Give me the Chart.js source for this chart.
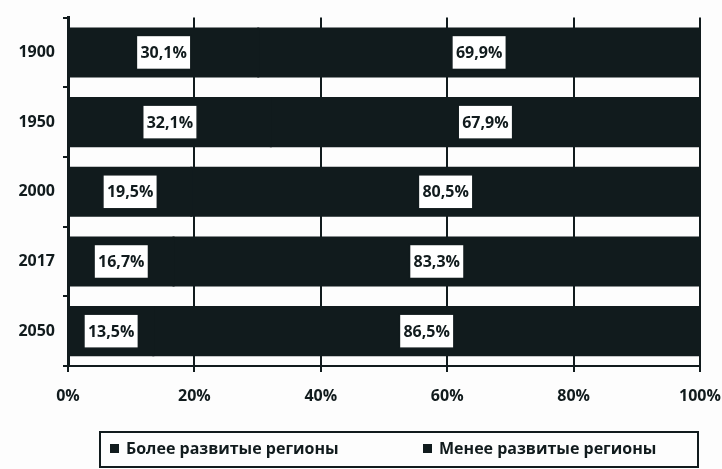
<!DOCTYPE html>
<html>
<head>
<meta charset="utf-8">
<script src="https://cdn.jsdelivr.net/npm/chart.js@4"></script>
<style>
  html, body { margin: 0; padding: 0; background: #fdfdfd; }
  #wrap { width: 722px; height: 469px; }
</style>
</head>
<body>
<div id="wrap"><canvas id="myChart" width="722" height="469"></canvas></div>
<script>
const years = ['1900', '1950', '2000', '2017', '2050'];
const moreDeveloped = [30.1, 32.1, 19.5, 16.7, 13.5];
const lessDeveloped = [69.9, 67.9, 80.5, 83.3, 86.5];
const seriesNames = ['Более развитые регионы', 'Менее развитые регионы'];
const xTicks = [0, 20, 40, 60, 80, 100];

const ink = '#111b1d';
const fontFamily = '"Open Sans", "Noto Sans", sans-serif';

function pct(v){
    return v.toFixed(1).replace('.', ',') + '%';
}

// white boxes with the value in the middle of every segment
const boxLabels = {
    id: 'boxLabels',
    afterDatasetsDraw(chart){
        const ctx = chart.ctx;
        ctx.save();
        ctx.font = 'bold 16px ' + fontFamily;
        ctx.textAlign = 'center';
        ctx.textBaseline = 'middle';
        chart.data.datasets.forEach((ds, i) => {
            const meta = chart.getDatasetMeta(i);
            meta.data.forEach((bar, j) => {
                const text = pct(ds.data[j]);
                const cx = (bar.x + bar.base) / 2;
                const cy = bar.y;
                const w = ctx.measureText(text).width + 8;
                const h = 34;
                ctx.fillStyle = '#ffffff';
                ctx.fillRect(cx - w / 2, cy - h / 2, w, h);
                ctx.strokeStyle = ink;
                ctx.lineWidth = 1.5;
                ctx.strokeRect(cx - w / 2, cy - h / 2, w, h);
                ctx.fillStyle = ink;
                ctx.fillText(text, cx, cy + 1);
            });
        });
        ctx.restore();
    }
};

// legend in a framed box under the axis
const boxLegend = {
    id: 'boxLegend',
    afterDraw(chart){
        const ctx = chart.ctx;
        ctx.save();
        ctx.strokeStyle = ink;
        ctx.lineWidth = 2;
        ctx.strokeRect(100, 432, 598, 35);
        ctx.font = 'bold 16px ' + fontFamily;
        ctx.textBaseline = 'middle';
        const starts = [110, 423];
        chart.data.datasets.forEach((ds, i) => {
            ctx.fillStyle = ds.backgroundColor;
            ctx.fillRect(starts[i], 444, 9, 9);
            ctx.fillStyle = ink;
            ctx.fillText(ds.label, starts[i] + 16, 449);
        });
        ctx.restore();
    }
};

var ctx = document.getElementById('myChart').getContext('2d');
var myChart = new Chart(ctx, {
    type: 'bar',
    data: {
        labels: years,
        datasets: [{
            label: seriesNames[0],
            data: moreDeveloped,
            backgroundColor: ink,
            borderWidth: 0,
            inflateAmount: 1,
            categoryPercentage: 1,
            barPercentage: 0.69
        }, {
            label: seriesNames[1],
            data: lessDeveloped,
            backgroundColor: ink,
            borderWidth: 0,
            inflateAmount: 1,
            categoryPercentage: 1,
            barPercentage: 0.69
        }]
    },
    options: {
        indexAxis: 'y',
        responsive: false,
        animation: false,
        layout: {
            padding: { top: 14, right: 0, bottom: 43, left: 0 }
        },
        plugins: {
            legend: { display: false },
            tooltip: { enabled: false }
        },
        scales: {
            x: {
                stacked: true,
                min: 0,
                max: 100,
                afterBuildTicks: function(scale){
                    scale.ticks = xTicks.map(v => ({ value: v }));
                },
                afterFit: function(scale){
                    scale.height = 60;
                    scale.paddingRight = 22;
                },
                ticks: {
                    callback: v => v + '%',
                    color: ink,
                    padding: 15,
                    maxRotation: 0,
                    font: { family: fontFamily, size: 16, weight: 'bold' }
                },
                grid: {
                    color: ink,
                    lineWidth: 2,
                    tickLength: 6
                },
                border: { color: ink, width: 2 }
            },
            y: {
                stacked: true,
                afterFit: function(scale){
                    scale.width = 68;
                },
                ticks: {
                    color: ink,
                    padding: 8,
                    font: { family: fontFamily, size: 16, weight: 'bold' }
                },
                grid: {
                    offset: true,
                    drawOnChartArea: false,
                    color: ink,
                    lineWidth: 2,
                    tickLength: 5
                },
                border: { color: ink, width: 3 }
            }
        }
    },
    plugins: [boxLabels, boxLegend]
});
</script>
</body>
</html>
